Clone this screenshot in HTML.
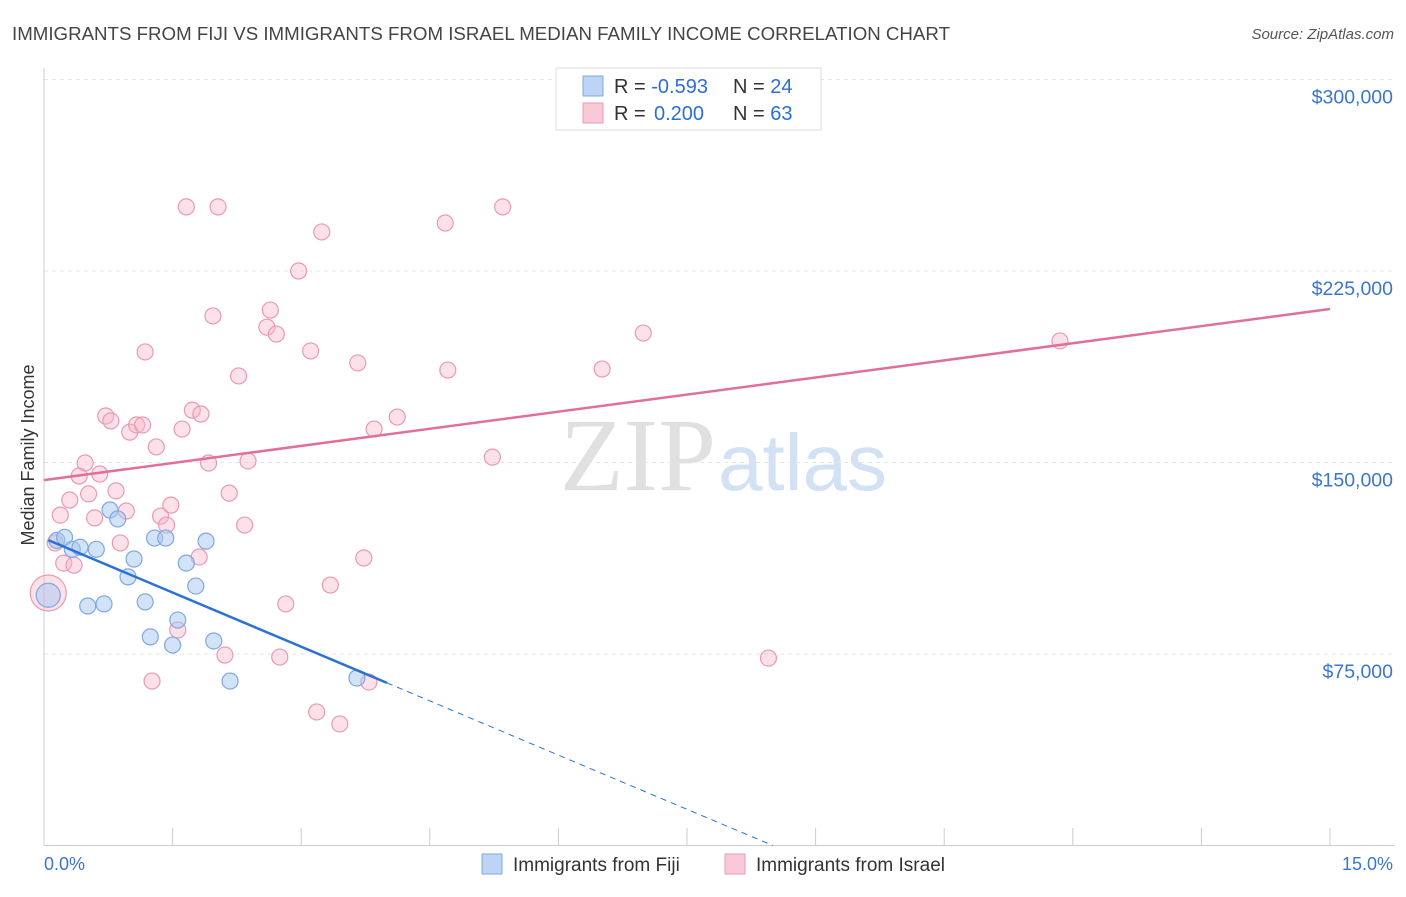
<!DOCTYPE html>
<html><head><meta charset="utf-8"><style>
body{margin:0;background:#fff;font-family:"Liberation Sans",sans-serif}
</style></head><body>
<svg id="chart" width="1406" height="892" xmlns="http://www.w3.org/2000/svg">
<text x="12" y="40" font-size="18" fill="#444" textLength="938" lengthAdjust="spacingAndGlyphs">IMMIGRANTS FROM FIJI VS IMMIGRANTS FROM ISRAEL MEDIAN FAMILY INCOME CORRELATION CHART</text>
<text x="1394" y="39" font-size="15" fill="#555" font-style="italic" text-anchor="end">Source: ZipAtlas.com</text>
<text x="716" y="490" font-size="104" fill="#e0e0e0" font-family="Liberation Serif" text-anchor="end">ZIP</text>
<text x="718" y="490" font-size="80" fill="#d2e1f3">atlas</text>
<text transform="translate(34,455) rotate(-90)" font-size="18" fill="#333" text-anchor="middle">Median Family Income</text>
<g id="grid"></g><g id="axes"></g><g id="marks"></g>
<g>
<rect x="556" y="68" width="265" height="62" fill="#fff" stroke="#ddd"/>
<rect x="583" y="76" width="20" height="20" fill="#bcd4f5" stroke="#7fa8e0"/>
<rect x="583" y="103" width="20" height="20" fill="#f9c9d8" stroke="#e89ab4"/>
<text x="614" y="93" font-size="20" fill="#333">R = <tspan fill="#2a6fd6">-0.593</tspan><tspan x="733">N = </tspan><tspan fill="#2a6fd6">24</tspan></text>
<text x="614" y="120" font-size="20" fill="#333">R = <tspan fill="#2a6fd6" x="654">0.200</tspan><tspan x="733">N = </tspan><tspan fill="#2a6fd6">63</tspan></text>
</g>
<g>
<rect x="482" y="854" width="20" height="20" fill="#bcd4f5" stroke="#7fa8e0"/>
<text x="513" y="871" font-size="19" fill="#333">Immigrants from Fiji</text>
<rect x="725" y="854" width="20" height="20" fill="#f9c9d8" stroke="#e89ab4"/>
<text x="756" y="871" font-size="19" fill="#333">Immigrants from Israel</text>
</g>
</svg>
<script>
const yTicks=[75000,150000,225000,300000];
const yTickLabels=["$75,000","$150,000","$225,000","$300,000"];
const xTickLabels=["0.0%","15.0%"];
const fijiX=[0.05,0.15,0.24,0.33,0.42,0.61,0.51,0.70,0.77,0.86,0.98,1.05,1.18,1.24,1.29,1.42,1.50,1.56,1.66,1.77,1.89,1.98,2.17,3.65];
const fijiY=[98000,119500,120700,116000,116800,116000,93800,94600,131400,127900,105200,112200,95400,81700,120400,120400,78500,88300,110600,101600,119200,80100,64400,65600];
const israelX=[0.05,0.13,0.19,0.23,0.30,0.35,0.41,0.48,0.52,0.59,0.65,0.72,0.78,0.84,0.89,0.96,1.00,1.08,1.15,1.18,1.26,1.31,1.36,1.43,1.48,1.56,1.61,1.66,1.73,1.81,1.83,1.92,1.97,2.03,2.11,2.16,2.27,2.34,2.38,2.60,2.64,2.71,2.75,2.82,2.97,3.11,3.18,3.24,3.34,3.45,3.66,3.73,3.79,3.85,4.12,4.68,4.71,5.23,5.35,6.51,6.99,8.45,11.85];
const israelY=[98900,118500,129400,110600,135300,109800,144700,149800,137700,128300,145500,168200,166300,138900,118500,131000,161900,164700,164700,193300,64400,156100,129000,125500,133300,84400,163100,250100,170500,113000,169000,149800,207400,250100,74600,138000,183900,125500,150600,203000,209700,200300,73800,94600,225000,193700,52300,240300,102000,47600,189000,112600,64000,163100,167800,243800,186200,152100,250100,186600,200700,73400,197600];
const israelTrend=[143100,210100];
const fijiTrend=[120300,-14150];
const NS="http://www.w3.org/2000/svg";
const X=v=>44+v/15*1286, Y=v=>845.5-v/75000*191.5;
function mk(p,t,a){const e=document.createElementNS(NS,t);for(const k in a)e.setAttribute(k,a[k]);document.getElementById(p).appendChild(e);return e;}
yTicks.forEach((t,i)=>{
 let g=mk('grid','line',{x1:44,x2:1394,y1:Y(t),y2:Y(t),stroke:'#e6e6e6','stroke-dasharray':'4,4'});
 
 
 let l=mk('axes','text',{x:1393,y:Y(t)+24,'font-size':19.5,fill:'#3a75d0','text-anchor':'end'});l.textContent=yTickLabels[i];
 
 
});
let ax=mk('axes','line',{x1:44,x2:1394,y1:845.5,y2:845.5,stroke:'#ccc'});


let ay=mk('axes','line',{x1:44,x2:44,y1:68,y2:845.5,stroke:'#ccc'});


for(let i=1;i<=10;i++){let t=mk('axes','line',{x1:X(i*1.5),x2:X(i*1.5),y1:828,y2:845,stroke:'#ccc'});
 
 }
[[0,'start',44],[1,'end',1393]].forEach(([i,a,x])=>{let t=mk('axes','text',{x:x,y:870,'font-size':18,fill:'#3a75d0','text-anchor':a});t.textContent=xTickLabels[i];
 
 });
israelX.forEach((x,i)=>{let c=mk('marks','circle',{cx:X(x),cy:Y(israelY[i]),r:i===0?18:8,fill:'rgba(248,180,200,0.4)',stroke:'#e89ab4','stroke-width':1.2});
 
 });
fijiX.forEach((x,i)=>{let c=mk('marks','circle',{cx:X(x),cy:Y(fijiY[i]),r:i===0?12:8,fill:'rgba(165,200,240,0.5)',stroke:'#7fa8e0','stroke-width':1.2});
 
 });
let il=mk('marks','line',{x1:X(0),y1:Y(israelTrend[0]),x2:X(15),y2:Y(israelTrend[1]),stroke:'#e0709a','stroke-width':2.5});


const fy=x=>fijiTrend[0]+fijiTrend[1]*x;
let fl=mk('marks','line',{x1:X(0.05),y1:Y(fy(0.05)),x2:X(4),y2:Y(fy(4)),stroke:'#2a72d6','stroke-width':2.5});


const x0=-fijiTrend[0]/fijiTrend[1];
let fd=mk('marks','line',{x1:X(4),y1:Y(fy(4)),x2:X(x0),y2:Y(0),stroke:'#2a72d6','stroke-width':1,'stroke-dasharray':'6,5'});


</script>
</body></html>
